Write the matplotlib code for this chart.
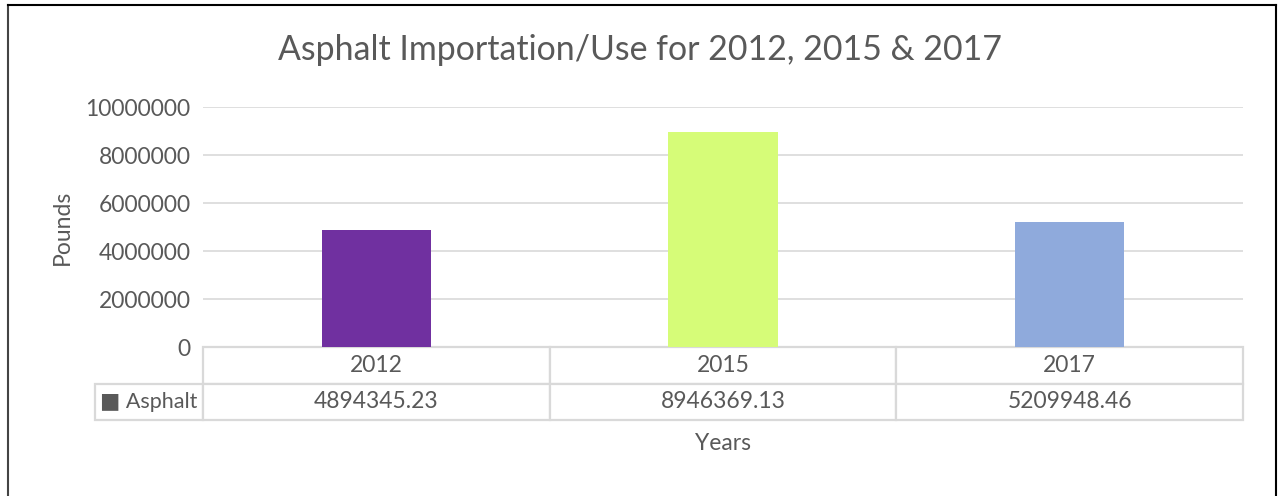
import matplotlib.pyplot as plt
from matplotlib.ticker import MultipleLocator
from matplotlib.lines import Line2D

years = ["2012", "2015", "2017"]
asphalt = [4894345.23, 8946369.13, 5209948.46]
bar_colors = ["#7030A0", "#D6FC78", "#8FAADC"]
series_name = "Asphalt"

plt.rcParams['font.family'] = ['Lato', 'DejaVu Sans']
grey_txt = "#595959"
grid_col = "#D9D9D9"
fs = 16.5

W, H = 1278, 496
fig = plt.figure(figsize=(W / 100, H / 100), dpi=100)

# plot area in pixels: x 203..1243, y 107..347
ax = fig.add_axes([203 / W, 1 - 347 / H, 1040 / W, 240 / H])
x = range(len(years))
ax.bar(x, asphalt, width=0.315, color=bar_colors, zorder=3)
ax.set_xlim(-0.5, len(years) - 0.5)
ax.set_ylim(0, 10000000)
ax.yaxis.set_major_locator(MultipleLocator(2000000))
ax.yaxis.set_major_formatter(lambda v, p: f"{int(v)}")
ax.grid(axis='y', color=grid_col, linewidth=1.2, zorder=0)
for s in ax.spines.values():
    s.set_visible(False)
ax.set_xticks([])
ax.tick_params(axis='y', length=0, pad=9, labelsize=fs, labelcolor=grey_txt)
ax.set_ylabel("Pounds", fontsize=fs, color=grey_txt, labelpad=9)

# data table under the plot
cells = [[""] + years,
         ["\u25A0 " + series_name] + [f"{v:.2f}" for v in asphalt]]
lab_w = 108 / 1040
tbl = ax.table(cellText=cells, cellLoc='center',
               colWidths=[lab_w] + [1 / 3] * 3,
               bbox=[-lab_w, -73 / 240, 1 + lab_w, 73 / 240])
tbl.auto_set_font_size(False)
for (r, c), cell in tbl.get_celld().items():
    cell.set_edgecolor(grid_col)
    cell.set_linewidth(1.6)
    cell.get_text().set_fontsize(fs)
    cell.get_text().set_color(grey_txt)
    if r == 0 and c == 0:
        cell.visible_edges = ''
    if r == 1 and c == 0:
        cell.get_text().set_fontsize(15.5)

fig.text(723 / W, 1 - 443 / H, "Years", ha='center', va='center',
         fontsize=fs, color=grey_txt)
fig.text(640 / W, 1 - 50 / H, "Asphalt Importation/Use for 2012, 2015 & 2017",
         ha='center', va='center', fontsize=24.4, color=grey_txt)

# outer frame (left, top, right)
fig.add_artist(Line2D([8 / W, 8 / W], [0, 1 - 5 / H], color='#444444', lw=1.5))
fig.add_artist(Line2D([8 / W, 1276 / W], [1 - 5 / H, 1 - 5 / H], color='black', lw=1.5))
fig.add_artist(Line2D([1276 / W, 1276 / W], [0, 1 - 5 / H], color='black', lw=1.5))

fig.savefig("out.png", dpi=100)
